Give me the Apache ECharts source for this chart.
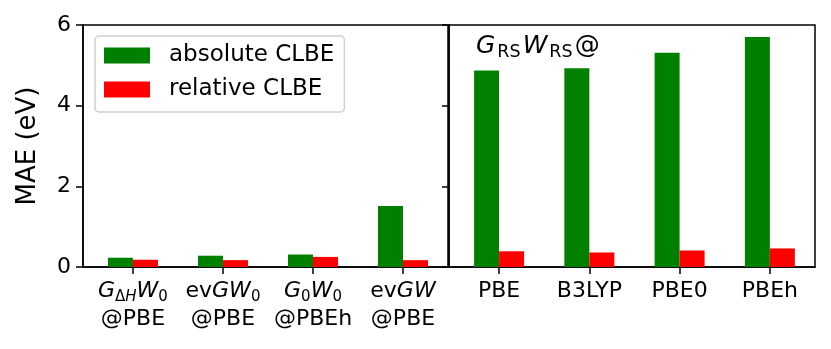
<!DOCTYPE html>
<html>
<head>
<meta charset="utf-8">
<script src="https://cdn.jsdelivr.net/npm/echarts@6/dist/echarts.min.js"></script>
<style>
  html, body { margin: 0; padding: 0; background: #fff; }
  #chart { width: 831px; height: 349px; }
</style>
</head>
<body>
<div id="chart"></div>
<script>
// data
const leftCats = ['GΔHW0@PBE', 'evGW0@PBE', 'G0W0@PBEh', 'evGW@PBE']
const leftLabels = [
  '{i|G}{s|Δ}{si|H}{i|W}{s|0}\n{n|@PBE}',
  '{n|ev}{i|GW}{s|0}\n{n|@PBE}',
  '{i|G}{s|0}{i|W}{s|0}\n{n|@PBEh}',
  '{n|ev}{i|GW}\n{n|@PBE}'
]
const leftAbs = [0.23, 0.28, 0.31, 1.51]
const leftRel = [0.18, 0.17, 0.25, 0.17]

const rightCats = ['PBE', 'B3LYP', 'PBE0', 'PBEh']
const rightAbs = [4.87, 4.93, 5.31, 5.70]
const rightRel = [0.39, 0.36, 0.41, 0.46]

const yTicks = [0, 2, 4, 6]
const catTicks = [0, 1, 2, 3]

const FONT = 'DejaVu Sans'
const richStyle = {
  n: { fontFamily: FONT, fontSize: 22, lineHeight: 28, color: '#000' },
  i: { fontFamily: FONT, fontSize: 22, lineHeight: 28, fontStyle: 'italic', color: '#000' },
  s: { fontFamily: FONT, fontSize: 15, lineHeight: 16, verticalAlign: 'bottom', color: '#000' },
  si: { fontFamily: FONT, fontSize: 15, lineHeight: 16, verticalAlign: 'bottom', fontStyle: 'italic', color: '#000' }
}
const titleRich = {
  n: { fontFamily: FONT, fontSize: 25, lineHeight: 29, fontWeight: 'normal', color: '#000' },
  i: { fontFamily: FONT, fontSize: 25, lineHeight: 29, fontWeight: 'normal', fontStyle: 'italic', color: '#000' },
  s: { fontFamily: FONT, fontSize: 17.5, lineHeight: 17, fontWeight: 'normal', verticalAlign: 'bottom', padding: [0, 2, 0, 2], color: '#000' }
}

const chart = echarts.init(document.getElementById('chart'))

function xAxisFor(gridIndex, labels) {
  return {
    type: 'value',
    gridIndex: gridIndex,
    min: -0.555,
    max: 3.5,
    splitLine: { show: false },
    axisLine: { show: true, onZero: false, lineStyle: { color: '#000', width: 1.5 } },
    axisTick: { show: true, customValues: catTicks, length: 7, lineStyle: { color: '#000', width: 1.5 } },
    axisLabel: {
      customValues: catTicks,
      margin: 10,
      fontFamily: FONT,
      fontSize: 22,
      color: '#000',
      lineHeight: 28,
      formatter: (v) => labels[Math.round(v)],
      rich: richStyle
    }
  }
}

function yAxisFor(gridIndex, showLabel) {
  return {
    type: 'value',
    gridIndex: gridIndex,
    min: 0,
    max: 6,
    interval: 2,
    name: showLabel ? 'MAE (eV)' : '',
    nameLocation: 'middle',
    nameGap: 42,
    nameTextStyle: { fontFamily: FONT, fontSize: 26, color: '#000' },
    splitLine: { show: false },
    axisLine: { show: true, onZero: false, lineStyle: { color: '#000', width: 1.5 } },
    axisTick: { show: true, length: 7, lineStyle: { color: '#000', width: 1.5 } },
    axisLabel: { show: showLabel, margin: 12, fontFamily: FONT, fontSize: 22, color: '#000' }
  }
}

const option = {
  animation: false,
  backgroundColor: '#fff',
  title: {
    left: 476,
    top: 32,
    padding: 0,
    text: '{i|G}{s|RS}{i|W}{s|RS}{n|@}',
    textStyle: { rich: titleRich }
  },
  legend: {
    orient: 'vertical',
    left: 95,
    top: 36,
    padding: [8, 10, 11, 9],
    itemWidth: 46,
    itemHeight: 16,
    itemGap: 11,
    icon: 'rect',
    borderColor: '#d0d0d0',
    borderWidth: 1.5,
    borderRadius: 4,
    backgroundColor: 'rgba(255,255,255,0.8)',
    textStyle: { fontFamily: FONT, fontSize: 23, lineHeight: 22, color: '#000', padding: [0, 0, 0, 14] },
    data: ['absolute CLBE', 'relative CLBE']
  },
  grid: [
    { left: 83, right: 383, top: 25, bottom: 82, show: true, borderColor: '#000', borderWidth: 1.5 },
    { left: 449, right: 16, top: 25, bottom: 82, show: true, borderColor: '#000', borderWidth: 1.5 }
  ],
  xAxis: [xAxisFor(0, leftLabels), xAxisFor(1, rightCats)],
  yAxis: [yAxisFor(0, true), yAxisFor(1, false)],
  series: [
    { name: 'absolute CLBE', type: 'bar', xAxisIndex: 0, yAxisIndex: 0, barWidth: 25, barGap: '0%', itemStyle: { color: '#008000' }, data: leftAbs.map((v, i) => [i, v]) },
    { name: 'relative CLBE', type: 'bar', xAxisIndex: 0, yAxisIndex: 0, barWidth: 25, barGap: '0%', itemStyle: { color: '#ff0000' }, data: leftRel.map((v, i) => [i, v]) },
    { name: 'absolute CLBE', type: 'bar', xAxisIndex: 1, yAxisIndex: 1, barWidth: 25, barGap: '0%', itemStyle: { color: '#008000' }, data: rightAbs.map((v, i) => [i, v]) },
    { name: 'relative CLBE', type: 'bar', xAxisIndex: 1, yAxisIndex: 1, barWidth: 25, barGap: '0%', itemStyle: { color: '#ff0000' }, data: rightRel.map((v, i) => [i, v]) }
  ]
}

chart.setOption(option)
</script>
</body>
</html>
